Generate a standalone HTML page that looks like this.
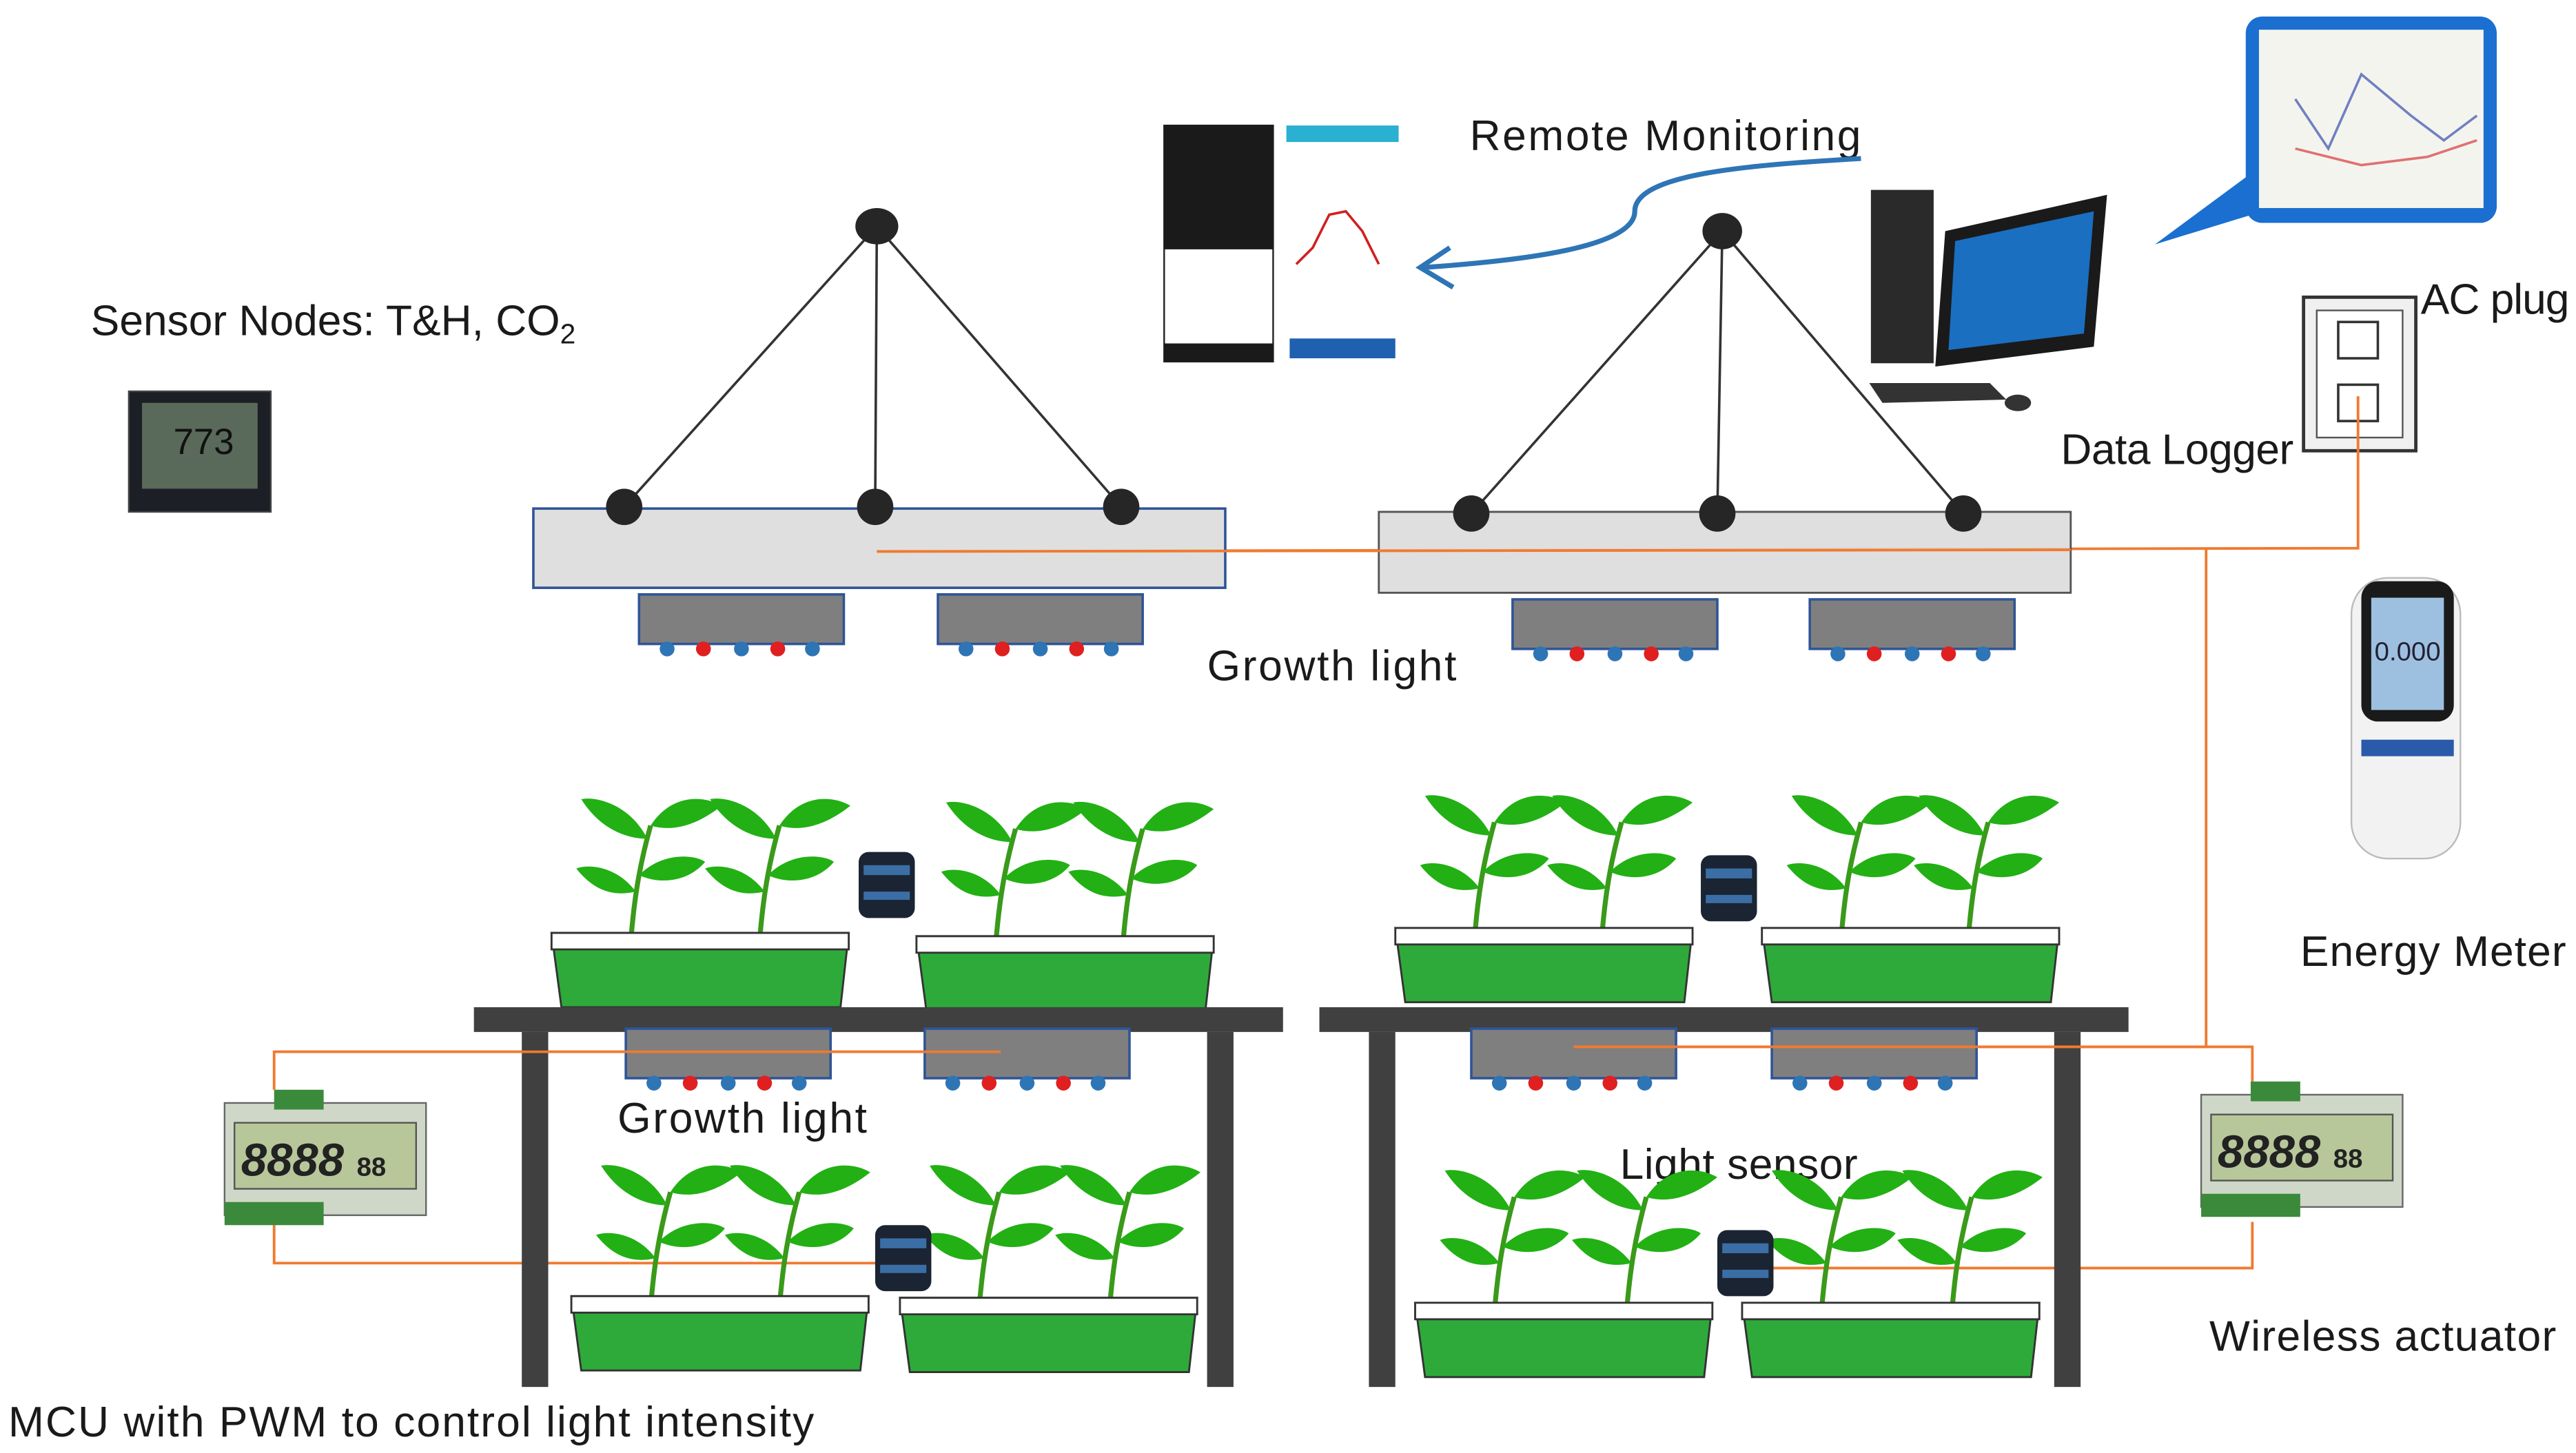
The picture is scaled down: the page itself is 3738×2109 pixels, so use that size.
<!DOCTYPE html>
<html><head><meta charset="utf-8"><style>
html,body{margin:0;padding:0;background:#fff;}
svg{display:block;}
text{font-family:"Liberation Sans",sans-serif;font-size:26px;fill:#1a1a1a;}
</style></head><body>
<svg width="3738" height="2109" viewBox="0 0 1560 880" preserveAspectRatio="none" xmlns="http://www.w3.org/2000/svg">
<defs>
<g id="plant">
<path d="M0,0 C2,-25 5,-45 12,-70" stroke="#3a9a1a" stroke-width="3" fill="none"/>
<path d="M12,-70 C25,-90 45,-88 55,-82 C40,-70 25,-66 12,-70Z" fill="#22b014"/>
<path d="M10,-62 C0,-82 -20,-88 -30,-86 C-20,-70 -5,-62 10,-62Z" fill="#22b014"/>
<path d="M5,-40 C20,-55 40,-52 45,-48 C35,-36 18,-34 5,-40Z" fill="#22b014"/>
<path d="M3,-30 C-8,-45 -25,-47 -33,-44 C-22,-30 -10,-27 3,-30Z" fill="#22b014"/>
</g>
<g id="mod">
<rect x="0" y="0" width="124" height="30" fill="#7f7f7f" stroke="#2f5597" stroke-width="1.5"/>
<circle cx="17" cy="33" r="4.5" fill="#2e75b6"/><circle cx="39" cy="33" r="4.5" fill="#e02020"/>
<circle cx="62" cy="33" r="4.5" fill="#2e75b6"/><circle cx="84" cy="33" r="4.5" fill="#e02020"/>
<circle cx="105" cy="33" r="4.5" fill="#2e75b6"/>
</g>
<g id="pot">
<path d="M0,0 L180,0 L175,45 L6,45Z" fill="#2eaa3a" stroke="#333" stroke-width="1.2"/>
<rect x="0" y="0" width="180" height="10" fill="#fff" stroke="#333" stroke-width="1.2"/>
</g>
<g id="sensor">
<rect x="0" y="0" width="34" height="40" rx="6" fill="#1b2433"/>
<rect x="3" y="8" width="28" height="6" fill="#3a6ea5"/>
<rect x="3" y="24" width="28" height="5" fill="#3a6ea5"/>
</g>
<g id="act">
<rect x="0" y="8" width="122" height="68" fill="#cfd8c8" stroke="#666"/>
<rect x="30" y="0" width="30" height="12" fill="#3b8a3b"/>
<rect x="6" y="20" width="110" height="40" fill="#b7c79a" stroke="#555"/>
<text x="10" y="52" style="font-size:28px;font-weight:bold;fill:#222;font-style:italic">8888</text>
<text x="80" y="52" style="font-size:16px;font-weight:bold;fill:#222">88</text>
<rect x="0" y="68" width="60" height="14" fill="#3b8a3b"/>
</g>
</defs>

<!-- Texts -->
<text x="890" y="91" textLength="237">Remote Monitoring</text>
<text x="55" y="203">Sensor Nodes: T&amp;H, CO<tspan style="font-size:17px" dy="5">2</tspan></text>
<text x="1466" y="190" textLength="90">AC plug</text>
<text x="1248" y="281" textLength="141">Data Logger</text>
<text x="731" y="412" textLength="151">Growth light</text>
<text x="1393" y="585" textLength="161">Energy Meter</text>
<text x="374" y="686" textLength="151">Growth light</text>
<text x="981" y="714" textLength="144">Light sensor</text>
<text x="1338" y="818" textLength="210">Wireless actuator</text>
<text x="5" y="870" textLength="488">MCU with PWM to control light intensity</text>

<!-- sensor node device -->
<rect x="78" y="237" width="86" height="73" fill="#1c1f26" stroke="#444"/>
<rect x="86" y="244" width="70" height="52" fill="#5a6a5a"/>
<text x="105" y="275" style="font-size:22px;fill:#111">773</text>

<!-- phone screenshots -->
<rect x="705" y="76" width="66" height="143" fill="#fff" stroke="#222"/>
<rect x="705" y="76" width="66" height="75" fill="#1a1a1a"/>
<rect x="705" y="208" width="66" height="11" fill="#1a1a1a"/>
<rect x="779" y="76" width="68" height="143" fill="#fff"/>
<rect x="779" y="76" width="68" height="10" fill="#2ab0d0"/>
<polyline points="785,160 795,150 805,130 815,128 825,140 835,160" fill="none" stroke="#d02020" stroke-width="1.5"/>
<rect x="781" y="205" width="64" height="12" fill="#2060b0"/>

<!-- remote arrow -->
<path d="M1127,96 C1060,100 990,105 990,128 C990,150 920,158 862,162" fill="none" stroke="#2e75b6" stroke-width="3"/>
<path d="M878,150 L860,162 L880,174" fill="none" stroke="#2e75b6" stroke-width="3"/>

<!-- computer -->
<rect x="1133" y="115" width="38" height="105" fill="#2a2a2a"/>
<path d="M1178,140 L1276,118 L1268,210 L1172,222Z" fill="#1a1a1a"/>
<path d="M1184,146 L1268,128 L1262,202 L1180,212Z" fill="#1a6fc0"/>
<path d="M1132,232 L1205,232 L1215,242 L1140,244Z" fill="#333"/>
<ellipse cx="1222" cy="244" rx="8" ry="5" fill="#333"/>

<!-- callout -->
<path d="M1305,148 L1370,100 L1380,125Z" fill="#1a6fd0"/>
<rect x="1360" y="10" width="152" height="125" rx="10" fill="#1a6fd0"/>
<rect x="1368" y="18" width="136" height="108" fill="#f4f4ef"/>
<polyline points="1390,60 1410,90 1430,45 1460,70 1480,85 1500,70" fill="none" stroke="#7080c0" stroke-width="1.5"/>
<polyline points="1390,90 1430,100 1470,95 1500,85" fill="none" stroke="#e07070" stroke-width="1.5"/>

<!-- AC plug -->
<rect x="1395" y="180" width="68" height="93" fill="#f0f0f0" stroke="#333" stroke-width="2"/>
<rect x="1403" y="188" width="52" height="77" fill="#fff" stroke="#555"/>
<rect x="1416" y="195" width="24" height="22" fill="#fff" stroke="#333" stroke-width="1.5"/>
<rect x="1416" y="233" width="24" height="22" fill="#fff" stroke="#333" stroke-width="1.5"/>

<!-- energy meter -->
<rect x="1424" y="350" width="66" height="170" rx="22" fill="#f2f2f2" stroke="#bbb"/>
<rect x="1430" y="352" width="56" height="85" rx="10" fill="#1a1a1a"/>
<rect x="1436" y="362" width="44" height="68" fill="#9ec0e0"/>
<text x="1438" y="400" style="font-size:16px;fill:#223">0.000</text>
<rect x="1430" y="448" width="56" height="10" fill="#2a5aaa"/>

<!-- orange wiring -->
<g fill="none" stroke="#f07a30" stroke-width="1.6">
<polyline points="531,334 1428,332 1428,240"/>
<polyline points="1336,332 1336,634 1364,634 1364,655"/>
<polyline points="953,634 1336,634"/>
<polyline points="166,660 166,637 606,637"/>
<polyline points="166,740 166,765 540,765"/>
<polyline points="1364,740 1364,768 1060,768"/>
</g>

<!-- fixtures -->
<g stroke="#333" stroke-width="1.5">
<line x1="531" y1="137" x2="378" y2="307"/><line x1="531" y1="137" x2="530" y2="307"/><line x1="531" y1="137" x2="679" y2="307"/>
<line x1="1043" y1="140" x2="891" y2="311"/><line x1="1043" y1="140" x2="1040" y2="311"/><line x1="1043" y1="140" x2="1189" y2="311"/>
</g>
<rect x="323" y="308" width="419" height="48" fill="#d9d9d9" stroke="#2f5597" stroke-width="1.5" fill-opacity="0.85"/>
<rect x="835" y="310" width="419" height="49" fill="#d9d9d9" stroke="#555" stroke-width="1.2" fill-opacity="0.85"/>
<line x1="531" y1="334" x2="1254" y2="333" stroke="#f07a30" stroke-width="1.6"/>
<g fill="#262626">
<ellipse cx="531" cy="137" rx="13" ry="11"/><circle cx="378" cy="307" r="11"/><circle cx="530" cy="307" r="11"/><circle cx="679" cy="307" r="11"/>
<ellipse cx="1043" cy="140" rx="12" ry="11"/><circle cx="891" cy="311" r="11"/><circle cx="1040" cy="311" r="11"/><circle cx="1189" cy="311" r="11"/>
</g>
<use href="#mod" x="387" y="360"/><use href="#mod" x="568" y="360"/>
<use href="#mod" x="916" y="363"/><use href="#mod" x="1096" y="363"/>

<!-- upper plants -->
<use href="#plant" x="382" y="570"/><use href="#plant" x="460" y="570"/>
<use href="#plant" x="603" y="572"/><use href="#plant" x="680" y="572"/>
<use href="#plant" x="893" y="568"/><use href="#plant" x="970" y="568"/>
<use href="#plant" x="1115" y="568"/><use href="#plant" x="1192" y="568"/>
<use href="#pot" x="334" y="565"/><use href="#pot" x="555" y="567"/>
<use href="#pot" x="845" y="562"/><use href="#pot" x="1067" y="562"/>
<use href="#sensor" x="520" y="516"/><use href="#sensor" x="1030" y="518"/>

<!-- shelves -->
<g fill="#404040">
<rect x="287" y="610" width="490" height="15"/><rect x="316" y="625" width="16" height="215"/><rect x="731" y="625" width="16" height="215"/>
<rect x="799" y="610" width="490" height="15"/><rect x="829" y="625" width="16" height="215"/><rect x="1244" y="625" width="16" height="215"/>
</g>
<use href="#mod" x="379" y="623"/><use href="#mod" x="560" y="623"/>
<use href="#mod" x="891" y="623"/><use href="#mod" x="1073" y="623"/>
<line x1="166" y1="637" x2="606" y2="637" stroke="#f07a30" stroke-width="1.6"/>
<line x1="953" y1="634" x2="1336" y2="634" stroke="#f07a30" stroke-width="1.6"/>

<!-- lower plants -->
<use href="#plant" x="394" y="792"/><use href="#plant" x="472" y="792"/>
<use href="#plant" x="593" y="792"/><use href="#plant" x="672" y="792"/>
<use href="#plant" x="905" y="795"/><use href="#plant" x="985" y="795"/>
<use href="#plant" x="1103" y="795"/><use href="#plant" x="1182" y="795"/>
<use href="#pot" x="346" y="785"/><use href="#pot" x="545" y="786"/>
<use href="#pot" x="857" y="789"/><use href="#pot" x="1055" y="789"/>
<use href="#sensor" x="530" y="742"/><use href="#sensor" x="1040" y="745"/>

<!-- actuators -->
<use href="#act" x="136" y="660"/>
<use href="#act" x="1333" y="655"/>
</svg>
</body></html>
